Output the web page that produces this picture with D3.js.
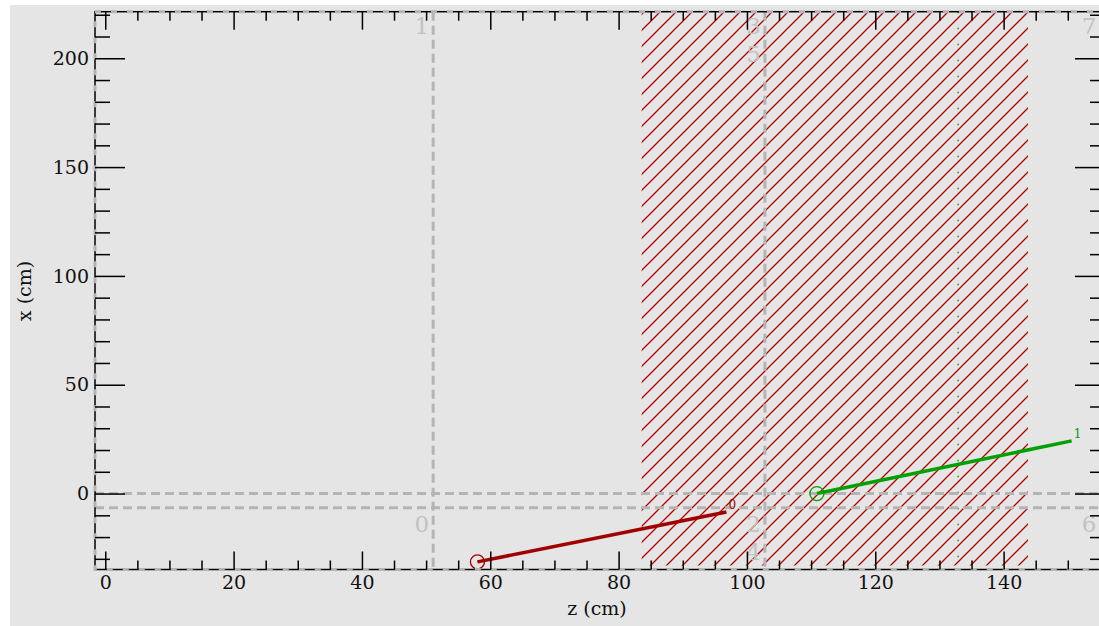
<!DOCTYPE html>
<html>
<head>
<meta charset="utf-8">
<script src="https://cdn.jsdelivr.net/npm/d3@7"></script>
<style>
  body { margin: 0; background: #fff; }
  svg { display: block; }
  text { font-family: "DejaVu Serif", "Liberation Serif", serif; }
</style>
</head>
<body>
<div id="chart"></div>
<script>
// tick labels
const zTicks = [0, 20, 40, 60, 80, 100, 120, 140];
const xTicks = [0, 50, 100, 150, 200];

// detector boundaries (z in cm, x in cm)
const zBounds = [51.1, 102.8];
const xBounds = [0, -6.5];
const regionNames = ["1", "0", "3", "5", "2", "4", "7", "6"];
const regionZ = [51.1, 51.1, 102.8, 102.8, 102.8, 102.8, 155.1, 155.1];
const regionX = [214, -15, 214, 201, -15, -28, 214, -15];

// shaded region and dotted marker
const hatchZ = [83.6, 143.8];
const dottedZ = 132.9;

// tracks
const trackIds = ["0", "1"];
const trackColors = ["#a00000", "#00a000"];
const trackZ0 = [58.0, 110.9];
const trackX0 = [-31.4, 0];
const trackZ1 = [96.8, 150.6];
const trackX1 = [-8.5, 24.2];

const width = 1099, height = 626;
const pLeft = 95, pRight = 1105, pTop = 11.7, pBottom = 569.5;

const svg = d3.select("#chart").append("svg")
    .attr("width", width)
    .attr("height", height);

svg.append("rect")
    .attr("x", 10).attr("y", 5)
    .attr("width", width - 10).attr("height", height - 5)
    .attr("fill", "#e5e5e5");

const x = d3.scaleLinear().domain([-1.6, 155.8]).range([pLeft, pRight]);
const y = d3.scaleLinear().domain([-34.9, 221.4]).range([pBottom, pTop]);

const defs = svg.append("defs");
defs.append("clipPath").attr("id", "plot")
    .append("rect")
    .attr("x", pLeft).attr("y", pTop)
    .attr("width", pRight - pLeft).attr("height", pBottom - pTop);

const pat = defs.append("pattern")
    .attr("id", "hatch")
    .attr("patternUnits", "userSpaceOnUse")
    .attr("width", 16).attr("height", 16);
pat.append("path")
    .attr("d", "M0,16 L16,0 M-4,4 L4,-4 M12,20 L20,12")
    .attr("stroke", "#b40000")
    .attr("stroke-width", 1.3);

const plot = svg.append("g").attr("clip-path", "url(#plot)");

// hatched region
plot.append("rect")
    .attr("x", x(hatchZ[0]))
    .attr("y", pTop)
    .attr("width", x(hatchZ[1]) - x(hatchZ[0]))
    .attr("height", pBottom - 4 - pTop)
    .attr("fill", "url(#hatch)");

// green dotted line
plot.append("line")
    .attr("x1", x(dottedZ)).attr("x2", x(dottedZ))
    .attr("y1", pTop).attr("y2", pBottom)
    .attr("stroke", "#00a000")
    .attr("stroke-width", 1.5)
    .attr("stroke-dasharray", "1.5,14.5");

// boundary lines
plot.selectAll(".vb").data(zBounds).join("line")
    .attr("x1", d => x(d)).attr("x2", d => x(d))
    .attr("y1", pTop).attr("y2", pBottom)
    .attr("stroke", "#b4b4b4")
    .attr("stroke-width", 3)
    .attr("stroke-dasharray", "9,5");
plot.selectAll(".hb").data(xBounds).join("line")
    .attr("x1", pLeft).attr("x2", pRight)
    .attr("y1", d => y(d)).attr("y2", d => y(d))
    .attr("stroke", "#b4b4b4")
    .attr("stroke-width", 3)
    .attr("stroke-dasharray", "9,5");

// region labels
plot.selectAll(".rl").data(regionNames).join("text")
    .attr("x", (d, i) => x(regionZ[i]) - 4)
    .attr("y", (d, i) => y(regionX[i]))
    .attr("text-anchor", "end")
    .attr("dominant-baseline", "middle")
    .attr("font-size", 23)
    .attr("fill", "#c2c2c2")
    .text(d => d);

// tracks
trackIds.forEach((id, i) => {
    plot.append("line")
        .attr("x1", x(trackZ0[i])).attr("y1", y(trackX0[i]))
        .attr("x2", x(trackZ1[i])).attr("y2", y(trackX1[i]))
        .attr("stroke", trackColors[i])
        .attr("stroke-width", 3.5);
    plot.append("circle")
        .attr("cx", x(trackZ0[i])).attr("cy", y(trackX0[i]))
        .attr("r", 7)
        .attr("fill", "none")
        .attr("stroke", trackColors[i])
        .attr("stroke-width", 1.3);
    plot.append("text")
        .attr("x", x(trackZ1[i]) + 2)
        .attr("y", y(trackX1[i]) - 3)
        .attr("font-size", 12)
        .attr("fill", trackColors[i])
        .text(id);
});

// frame
svg.append("rect")
    .attr("x", pLeft).attr("y", pTop)
    .attr("width", pRight - pLeft).attr("height", pBottom - pTop)
    .attr("fill", "none")
    .attr("stroke", "#000")
    .attr("stroke-width", 1.5);
svg.append("rect")
    .attr("x", pLeft).attr("y", pTop)
    .attr("width", pRight - pLeft).attr("height", pBottom - pTop)
    .attr("fill", "none")
    .attr("stroke", "#b4b4b4")
    .attr("stroke-width", 3)
    .attr("stroke-dasharray", "6,10");

// axes
const zMinor = d3.range(0, 156, 5).filter(d => d % 20 !== 0);
const xMinor = d3.range(-30, 221, 10).filter(d => d % 50 !== 0);

function styleAxis(g) {
    g.select(".domain").remove();
    g.selectAll("line").attr("stroke", "#000").attr("stroke-width", 1.5);
    g.selectAll("text")
        .attr("fill", "#111")
        .style("font-family", "'DejaVu Serif', serif")
        .style("font-size", "19px");
}

svg.append("g").attr("transform", `translate(0,${pBottom})`)
    .call(d3.axisBottom(x).tickValues(zTicks).tickSize(-18).tickPadding(6))
    .call(styleAxis);
svg.append("g").attr("transform", `translate(0,${pBottom})`)
    .call(d3.axisBottom(x).tickValues(zMinor).tickSize(-9).tickFormat(""))
    .call(styleAxis);
svg.append("g").attr("transform", `translate(0,${pTop})`)
    .call(d3.axisTop(x).tickValues(zTicks).tickSize(-18).tickFormat(""))
    .call(styleAxis);
svg.append("g").attr("transform", `translate(0,${pTop})`)
    .call(d3.axisTop(x).tickValues(zMinor).tickSize(-9).tickFormat(""))
    .call(styleAxis);

svg.append("g").attr("transform", `translate(${pLeft},0)`)
    .call(d3.axisLeft(y).tickValues(xTicks).tickSize(-30).tickPadding(6))
    .call(styleAxis);
svg.append("g").attr("transform", `translate(${pLeft},0)`)
    .call(d3.axisLeft(y).tickValues(xMinor).tickSize(-15).tickFormat(""))
    .call(styleAxis);
svg.append("g").attr("transform", `translate(${pRight},0)`)
    .call(d3.axisRight(y).tickValues(xTicks).tickSize(-30).tickFormat(""))
    .call(styleAxis);
svg.append("g").attr("transform", `translate(${pRight},0)`)
    .call(d3.axisRight(y).tickValues(xMinor).tickSize(-15).tickFormat(""))
    .call(styleAxis);

// axis titles
svg.append("text")
    .attr("x", 597).attr("y", 610)
    .attr("text-anchor", "middle")
    .attr("dominant-baseline", "middle")
    .attr("font-size", 19)
    .attr("fill", "#111")
    .text("z (cm)");
svg.append("text")
    .attr("transform", "translate(26,291) rotate(-90)")
    .attr("text-anchor", "middle")
    .attr("dominant-baseline", "middle")
    .attr("font-size", 19)
    .attr("fill", "#111")
    .text("x (cm)");
</script>
</body>
</html>
